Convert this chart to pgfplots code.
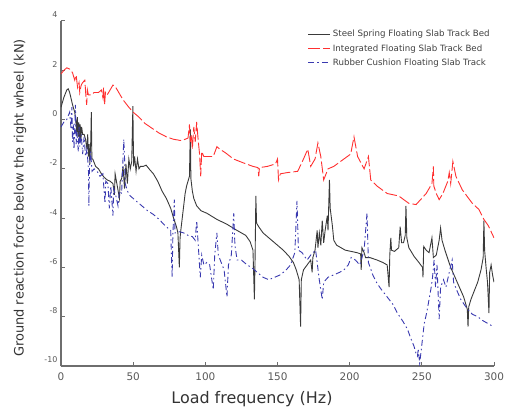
\documentclass[border=0pt]{standalone}
\usepackage{pgfplots}
\pgfplotsset{compat=1.18}
\usepackage{fontspec}
\setmainfont{DejaVu Sans}
\definecolor{steel}{HTML}{3A3A3A}
\definecolor{integ}{HTML}{FF3030}
\definecolor{rubber}{HTML}{3A3AB0}
\definecolor{axgray}{HTML}{6E6E6E}
\begin{document}
\begin{tikzpicture}
\begin{axis}[
  at={(0,0)}, anchor=south west,
  scale only axis, width=433bp, height=345bp,
  xmin=0, xmax=300, ymin=-10, ymax=4,
  axis x line=bottom, axis y line=left,
  axis line style={axgray, line width=1.3bp, -},
  xtick={0,50,...,300}, ytick={-10,-8,...,4},
  tick align=inside, major tick length=4bp,
  tick style={axgray, line width=1bp},
  /pgf/number format/assume math mode=true,
  xticklabel style={font=\fontsize{10.5}{12}\selectfont, text=black!65, yshift=-3.5bp},
  yticklabel style={font=\fontsize{8}{9}\selectfont, text=black!65, yshift=6bp},
  xlabel={Load frequency (Hz)},
  xlabel style={at={(axis description cs:0.441,0)}, anchor=north, inner sep=0pt, yshift=-25bp, font=\fontsize{16}{18}\selectfont, text=black!80},
  ylabel={Ground reaction force below the right wheel (kN)},
  ylabel style={at={(axis description cs:-0.0947,0.487)}, anchor=center, inner sep=0pt, font=\fontsize{13}{15}\selectfont, text=black!80},
  legend style={at={(rel axis cs:0.563,0.985)}, anchor=north west, draw=none, fill=none,
    font=\fontsize{8.7}{10}\selectfont, text=black!75, row sep=2bp},
  legend cell align=left,
  legend image code/.code={\draw[#1] (0bp,0bp) -- (22bp,0bp);},
]
% Steel spring floating slab track bed
\addplot[steel, line width=0.9bp] coordinates {
(0,0.5)(2,0.9)(4,1.2)(5,1.25)(6,1.1)(8,0.6)(9.5,0.3)(10.2,0.0)(10.8,-0.5)(11.3,0.1)(11.8,-0.7)(12.3,-0.1)(12.8,-0.9)(13.3,-0.2)(13.8,-0.8)(14.3,-0.3)(15,-0.6)(16,-0.6)(17,-0.8)(18,-1.2)(18.5,-0.6)(19,-1.5)(19.5,-1.0)(20,-1.8)(20.6,-0.9)(21,0.3)(21.4,-1.6)(22,-1.6)(24,-1.9)(26,-2.0)(28,-2.2)(30,-2.35)(32,-2.45)(34,-2.5)(36,-2.6)(37,-3.05)(37.5,-2.2)(39,-2.7)(40.5,-3.2)(41,-2.5)(42,-2.4)(43,-1.9)(44,-2.8)(45,-1.8)(46,-2.6)(47,-1.6)(48,-2.0)(49,-1.7)(49.8,0.55)(50.3,-1.9)(51,-1.5)(52,-2.1)(53,-1.6)(54,-2.0)(55,-1.9)(57,-1.9)(59,-1.85)(61,-2.0)(64,-2.2)(67,-2.5)(70,-2.9)(73,-3.2)(76,-3.6)(78,-4.0)(80,-4.35)(81,-4.6)(82,-6.0)(82.5,-4.8)(83,-4.5)(84,-4.0)(85,-3.5)(86,-3.0)(87,-2.7)(88,-2.5)(89,-2.3)(89.6,-0.4)(90,-2.4)(91,-2.9)(92,-3.2)(94,-3.5)(97,-3.7)(101,-3.8)(108,-4.05)(115,-4.25)(122,-4.5)(128,-4.7)(131,-4.95)(133,-5.3)(134,-7.3)(134.5,-5.5)(135,-3.1)(135.5,-4.2)(137,-4.35)(140,-4.6)(143,-4.75)(148,-5.0)(154,-5.3)(158,-5.55)(161,-5.8)(163,-6.1)(165,-6.5)(166,-8.4)(166.5,-6.5)(168,-6.1)(170.5,-5.9)(173,-5.7)(174,-6.2)(174.5,-5.6)(176,-5.3)(177.5,-4.5)(178,-5.2)(179,-4.6)(180,-5.1)(181,-4.1)(182,-5.0)(183,-4.5)(184.5,-3.9)(185,-4.5)(186,-2.45)(186.5,-3.6)(188,-4.3)(189,-4.9)(191,-5.1)(194,-5.2)(197,-5.3)(201,-5.35)(205,-5.4)(207.6,-5.45)(208,-6.1)(208.5,-5.2)(210,-5.4)(211,-5.6)(214,-5.6)(219,-5.7)(223,-5.8)(226,-5.9)(227.3,-6.8)(227.8,-5.5)(228.5,-4.8)(229,-5.3)(231,-5.35)(234,-5.2)(235,-4.35)(236,-5.0)(237.3,-5.0)(238.5,-4.7)(239,-3.5)(239.6,-4.8)(241,-5.2)(244.6,-5.55)(248,-5.8)(250.5,-6.0)(250.8,-6.4)(251.3,-5.15)(253,-5.3)(255,-5.4)(257,-4.8)(258,-5.6)(260,-5.5)(262,-4.9)(263,-4.4)(264,-4.9)(266,-5.3)(270,-6.0)(273,-6.4)(276,-6.8)(279,-7.2)(281.5,-7.7)(282,-8.4)(282.5,-7.6)(284,-7.3)(286,-7.0)(288.7,-6.6)(291,-6.1)(292.5,-5.6)(293,-4.1)(293.5,-5.3)(294.5,-6.0)(295.5,-6.6)(296.5,-7.85)(297,-6.2)(298,-5.9)(299,-6.3)(300,-6.6)
};
\addlegendentry{Steel Spring Floating Slab Track Bed}
% Integrated floating slab track bed
\addplot[integ, line width=0.9bp, dash pattern=on 12bp off 3bp] coordinates {
(0,1.85)(2,2.0)(4,2.1)(6,2.05)(8,1.9)(9.5,1.6)(10.5,1.8)(11.5,1.3)(12.5,1.5)(13,1.1)(14,1.4)(15,1.5)(16.5,1.6)(17.2,1.0)(17.8,0.6)(18.3,1.2)(19,1.0)(21,1.0)(23,1.1)(26,1.1)(28,1.2)(29,0.9)(29.5,1.3)(30.2,0.6)(30.8,1.1)(32,1.0)(34,1.2)(36,1.4)(38,1.3)(40,1.1)(43,0.8)(47,0.5)(50,0.3)(54,0.1)(58,-0.15)(63,-0.35)(68,-0.55)(73,-0.7)(78,-0.8)(83,-0.85)(86,-0.8)(88,-0.75)(89,-0.2)(89.6,-0.9)(90.3,-0.6)(91,-1.2)(92,-0.3)(93,-0.9)(94,-0.1)(95,-0.8)(96,-1.4)(96.8,-2.3)(97.5,-1.3)(99,-1.5)(101,-1.5)(105.5,-1.5)(108,-1.1)(110,-1.2)(114,-1.35)(119.5,-1.6)(126,-1.75)(133,-1.9)(136.5,-1.95)(137,-2.3)(137.5,-1.95)(143,-1.9)(148.6,-1.8)(150,-1.6)(150.7,-2.45)(152,-2.2)(157,-2.15)(164,-2.1)(168,-1.6)(171,-1.2)(173,-1.9)(176,-1.6)(178,-0.95)(180,-1.5)(182,-2.45)(185,-2.0)(189,-1.9)(196,-1.6)(200.7,-1.4)(203,-0.7)(205.5,-1.5)(210,-2.0)(213,-1.5)(214.6,-2.45)(219,-2.7)(226,-3.0)(234,-3.1)(241,-3.4)(246,-3.45)(253,-3.0)(257,-2.6)(258,-1.9)(258.3,-2.7)(260,-3.0)(262,-3.25)(264.6,-3.0)(268,-2.5)(269,-2.15)(270,-2.6)(271.5,-1.7)(273.6,-2.3)(278,-2.85)(285,-3.4)(289.6,-3.65)(293,-4.05)(296,-4.3)(300,-4.8)
};
\addlegendentry{Integrated Floating Slab Track Bed}
% Rubber cushion floating slab track
\addplot[rubber, line width=0.9bp, dash pattern=on 6bp off 3bp on 1.5bp off 3bp] coordinates {
(0,-0.3)(2,-0.1)(4,0.0)(6,0.3)(7,-0.4)(7.5,0.5)(8,-0.9)(8.5,-0.2)(9,-1.2)(9.5,-0.4)(10,0.6)(10.5,-1.0)(11,-0.5)(12,-1.3)(12.5,-0.3)(13,-1.1)(14,-0.6)(15,-1.4)(16,-0.7)(17,-1.5)(18,-1.2)(19,-2.0)(19.3,-3.5)(19.8,-1.8)(20.5,-1.3)(21.5,-2.1)(23,-2.0)(25,-2.1)(27,-2.3)(29,-2.2)(30.5,-3.4)(31,-2.5)(32.5,-2.6)(33.5,-3.6)(34.5,-2.7)(36,-3.9)(36.5,-2.8)(38,-3.1)(39.5,-3.5)(40.5,-2.9)(42,-3.0)(43.5,-0.8)(44,-1.5)(44.5,-2.6)(46,-2.9)(48,-3.1)(50,-3.2)(53,-3.35)(56,-3.5)(60,-3.7)(64,-3.85)(68,-4.05)(72,-4.3)(76,-4.5)(77,-6.4)(77.5,-4.7)(78.5,-3.25)(79,-4.6)(82,-4.55)(85,-4.6)(88,-4.7)(91,-4.75)(93,-4.9)(94,-4.1)(95,-5.0)(96.5,-6.4)(97.5,-5.5)(99,-5.9)(101,-5.8)(103,-5.9)(105.5,-6.9)(106.5,-5.5)(108,-4.6)(109,-5.5)(111,-5.8)(113,-6.1)(115,-7.2)(116,-5.9)(118,-5.5)(119.7,-3.8)(120.5,-5.1)(122,-5.7)(125,-5.7)(129,-5.9)(132,-6.0)(136,-6.2)(140,-6.4)(144,-6.5)(148,-6.4)(152,-6.3)(156,-6.1)(159,-5.9)(162,-5.4)(163.5,-3.3)(164.5,-5.3)(167,-5.4)(170.5,-5.7)(173,-5.5)(176.4,-5.3)(177.5,-5.8)(178.7,-6.4)(181,-7.3)(182,-6.6)(185,-6.4)(189,-6.3)(193,-6.2)(196,-6.1)(199,-5.9)(201,-5.6)(204,-5.7)(207,-5.9)(210,-5.3)(212,-3.8)(213,-5.8)(216,-6.3)(219,-6.65)(222,-6.9)(226,-7.2)(230,-7.5)(233,-7.85)(237,-8.2)(240,-8.5)(242.5,-8.9)(244.6,-9.2)(246,-9.5)(247,-9.6)(247.5,-9.3)(248.5,-9.9)(249.5,-9.4)(251.6,-8.3)(253.5,-7.8)(255,-7.3)(256.5,-6.8)(257.4,-6.4)(258.5,-5.7)(259.5,-6.8)(260.5,-5.9)(262,-8.1)(263,-6.8)(265,-6.5)(266.7,-6.8)(269,-6.2)(271,-5.7)(272,-6.6)(274,-6.9)(277,-7.3)(281.7,-7.7)(285,-7.9)(288.7,-8.0)(292,-8.15)(295.6,-8.27)(298,-8.35)(300,-8.4)
};
\addlegendentry{Rubber Cushion Floating Slab Track}
\end{axis}
\pgfresetboundingbox
\path[use as bounding box] (-61bp,-43bp) rectangle (453bp,366bp);
\end{tikzpicture}
\end{document}
